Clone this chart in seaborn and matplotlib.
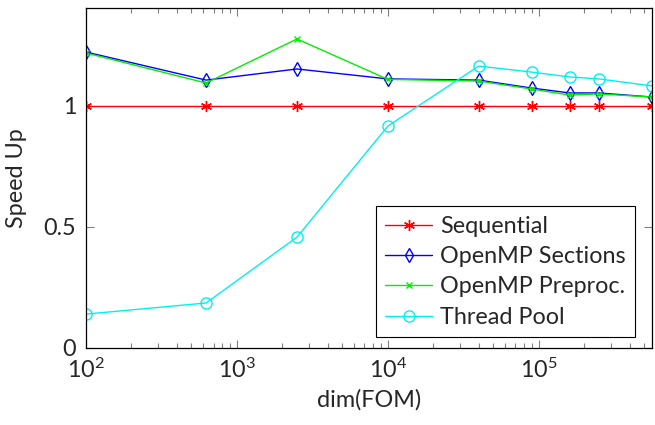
import numpy as np
import pandas as pd
import matplotlib
matplotlib.use('Agg')
import matplotlib.pyplot as plt
import seaborn as sns
from matplotlib.ticker import LogLocator, LogFormatterMathtext, FixedLocator

# Données
dims = [100, 625, 2500, 10000, 40000, 90000, 160000, 250000, 562500]
sequential = [1, 1, 1, 1, 1, 1, 1, 1, 1]
omp_sections = [1.223, 1.107, 1.153, 1.112, 1.107, 1.074, 1.054, 1.054, 1.037]
omp_preproc = [1.219, 1.095, 1.277, 1.110, 1.103, 1.070, 1.045, 1.050, 1.037]
thread_pool = [0.140, 0.186, 0.458, 0.917, 1.165, 1.140, 1.120, 1.112, 1.083]

series_names = ['Sequential', 'OpenMP Sections', 'OpenMP Preproc.', 'Thread Pool']
series_values = [sequential, omp_sections, omp_preproc, thread_pool]

sns.set_theme(style='ticks')
plt.rcParams['font.family'] = ['Lato', 'DejaVu Sans']
plt.rcParams['mathtext.fontset'] = 'custom'
plt.rcParams['mathtext.rm'] = 'Lato'
plt.rcParams['mathtext.it'] = 'Lato:italic'

df = pd.DataFrame({
    'dim': dims * len(series_names),
    'speedup': sum(series_values, []),
    'methode': np.repeat(series_names, len(dims)),
})

styles = {
    'Sequential': dict(color='#ff0000', marker=(6, 2, 0), markersize=8),
    'OpenMP Sections': dict(color='#0000ff', marker='d', markersize=7),
    'OpenMP Preproc.': dict(color='#00ee00', marker='x', markersize=5),
    'Thread Pool': dict(color='#00f0f0', marker='o', markersize=8),
}

fs = 16.8

fig = plt.figure(figsize=(6.55, 4.25), dpi=100)
ax = fig.add_axes([0.1313, 0.1812, 0.8641, 0.80])

for nom in series_names:
    st = styles[nom]
    sub = df[df['methode'] == nom]
    sns.lineplot(data=sub, x='dim', y='speedup', ax=ax, label=nom,
                 color=st['color'], marker=st['marker'], markersize=st['markersize'],
                 markerfacecolor='none', markeredgecolor=st['color'],
                 markeredgewidth=1.0, linewidth=1.0)

ax.set_xscale('log')
ax.set_xlim(100, 562500)
ax.set_ylim(0, 1.405)
ax.xaxis.set_major_locator(LogLocator(base=10, numticks=10))
ax.xaxis.set_major_formatter(LogFormatterMathtext())
ax.xaxis.set_minor_locator(LogLocator(base=10, subs=np.arange(2, 10), numticks=20))
ax.yaxis.set_major_locator(FixedLocator([0, 0.5, 1]))
ax.set_yticklabels(['0', '0.5', '1'])

ax.tick_params(axis='both', which='both', direction='in', top=True, right=True,
               color='#808080', labelsize=fs, pad=7)
ax.tick_params(which='major', length=6, width=0.8)
ax.tick_params(which='minor', length=3.5, width=0.8)
for sp in ax.spines.values():
    sp.set_color('black')
    sp.set_linewidth(0.9)

ax.set_xlabel('dim(FOM)', fontsize=fs, labelpad=5)
ax.set_ylabel('Speed Up', fontsize=fs, labelpad=12)

leg = ax.legend(loc='lower right', bbox_to_anchor=(0.970, 0.032), fontsize=fs,
                frameon=True, fancybox=False, edgecolor='black', framealpha=1,
                borderpad=0.4, labelspacing=0.4, handlelength=2.0,
                handletextpad=0.35, borderaxespad=0.0)
leg.get_frame().set_linewidth(0.8)

fig.savefig('out.png', dpi=100)
